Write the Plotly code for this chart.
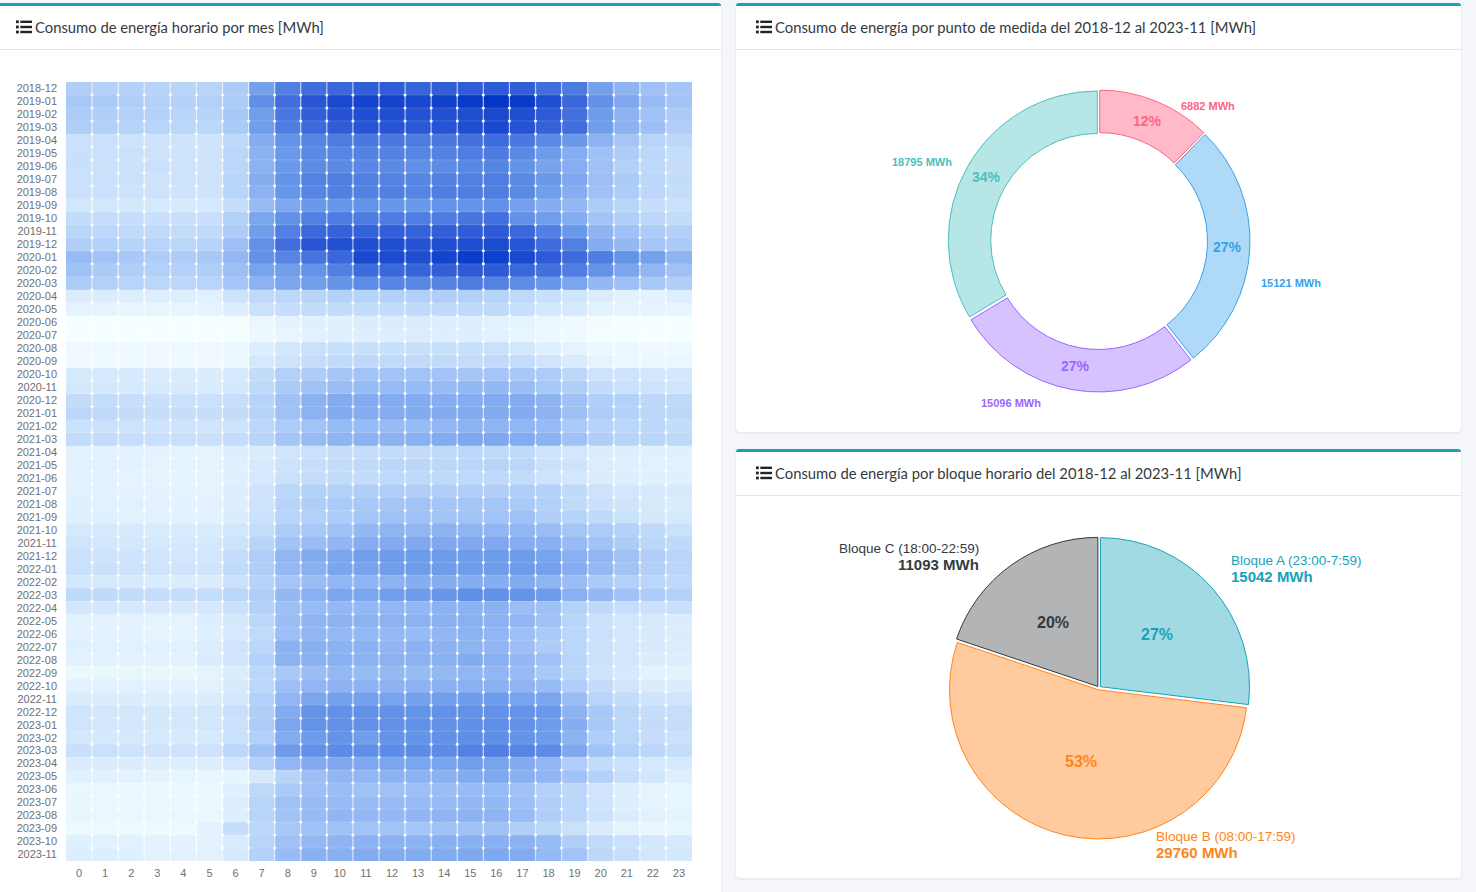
import plotly.graph_objects as go

W, H = 1476, 892

months = [f"{y}-{m:02d}" for y, m in [(2018, 12)] + [(y, m) for y in range(2019, 2023) for m in range(1, 13)] + [(2023, m) for m in range(1, 12)]]
hours = list(range(24))

# Heat values (relative level, 0-100)
r2018_12 = [37,36,35,34,33,33,38,57,70,77,80,83,84,81,83,84,85,83,77,72,57,49,43,41]
r2019_01 = [40,39,37,36,35,36,38,64,77,87,92,94,94,93,95,98,100,98,90,80,63,54,46,42]
r2019_02 = [38,37,36,35,33,34,40,58,73,83,88,90,90,88,89,90,92,90,85,76,59,50,43,39]
r2019_03 = [37,36,34,33,32,32,39,58,71,79,84,87,87,86,88,90,92,88,82,77,58,50,44,37]
r2019_04 = [24,24,23,23,22,22,30,52,62,68,72,73,73,72,73,76,78,73,66,60,50,41,33,31]
r2019_05 = [25,24,24,23,23,23,32,50,60,66,68,69,69,68,69,71,72,66,59,52,43,38,31,27]
r2019_06 = [25,24,24,24,23,23,32,50,60,65,66,67,66,64,65,67,68,62,56,52,43,36,30,26]
r2019_07 = [24,24,24,23,23,23,33,52,62,69,71,70,69,68,70,70,71,66,60,54,44,39,31,28]
r2019_08 = [24,24,23,23,22,22,33,50,61,68,70,69,70,68,71,71,71,66,58,52,43,38,31,27]
r2019_09 = [20,20,19,18,17,18,26,46,54,60,61,62,61,60,62,62,63,57,52,47,38,33,26,24]
r2019_10 = [28,27,26,25,25,25,36,55,63,70,72,72,72,71,72,74,76,63,58,52,42,37,31,28]
r2019_11 = [32,31,30,29,28,29,38,58,70,80,82,82,83,82,83,84,85,80,70,60,49,43,38,36]
r2019_12 = [37,35,34,33,32,34,44,63,77,87,89,90,90,88,90,90,91,87,78,70,52,47,41,39]
r2020_01 = [46,42,40,38,38,40,47,63,68,75,80,92,91,90,94,97,96,92,85,78,71,62,57,49]
r2020_02 = [43,39,37,36,35,37,44,56,58,62,70,78,80,81,83,85,85,80,76,71,62,55,48,43]
r2020_03 = [38,36,33,32,31,33,41,50,55,58,62,65,68,67,69,72,69,65,61,55,47,44,40,37]
r2020_04 = [15,15,14,14,14,13,23,30,31,33,35,34,35,36,37,36,34,30,25,21,15,12,11,14]
r2020_05 = [10,10,9,9,9,10,14,24,26,28,28,28,28,29,29,29,29,25,19,18,12,10,10,9]
r2020_06 = [0,0,0,0,0,0,1,7,11,13,13,15,15,16,14,14,12,10,7,5,2,0,0,0]
r2020_07 = [0,0,0,0,0,0,1,5,9,12,13,14,14,15,14,14,12,9,6,4,1,1,0,0]
r2020_08 = [5,5,5,5,5,5,6,14,20,24,25,25,25,25,25,25,24,19,13,10,6,6,5,5]
r2020_09 = [4,4,4,4,4,4,6,18,23,27,29,30,29,29,29,28,29,27,21,16,10,7,6,7]
r2020_10 = [18,18,17,16,16,15,18,28,36,38,41,42,42,42,42,41,41,40,38,31,23,22,20,19]
r2020_11 = [19,19,18,17,17,16,19,30,39,43,45,46,46,46,46,47,47,45,40,37,28,24,23,21]
r2020_12 = [28,27,26,25,24,24,26,34,43,50,53,53,53,53,52,52,53,53,49,43,37,35,31,30]
r2021_01 = [31,30,28,27,26,26,28,34,43,50,53,52,52,53,53,53,53,53,50,44,38,35,32,31]
r2021_02 = [24,24,23,22,22,21,23,31,38,42,46,46,46,46,48,50,49,48,46,39,34,32,31,28]
r2021_03 = [28,28,26,25,25,24,27,33,41,46,49,50,50,51,53,54,54,53,50,43,37,33,32,30]
r2021_04 = [12,12,11,11,10,10,14,15,21,24,26,27,28,28,30,31,30,29,22,20,15,14,13,13]
r2021_05 = [12,12,11,10,10,10,13,17,23,26,28,29,31,31,31,32,33,32,24,22,15,13,12,12]
r2021_06 = [11,11,10,10,10,10,13,17,24,27,28,28,30,30,30,30,30,28,22,20,15,14,13,13]
r2021_07 = [12,12,11,11,10,10,14,22,32,35,36,37,37,37,37,37,37,37,35,29,23,20,17,17]
r2021_08 = [13,12,12,11,11,11,14,23,33,37,39,40,41,42,41,41,41,39,36,29,24,21,18,16]
r2021_09 = [13,13,12,12,11,11,15,24,33,36,38,41,43,43,42,42,42,43,37,34,29,24,19,18]
r2021_10 = [18,18,17,16,16,16,20,27,38,40,43,47,49,48,50,49,48,48,45,41,38,35,29,24]
r2021_11 = [21,20,19,18,18,18,23,33,42,45,48,52,53,54,54,54,54,52,51,46,42,38,32,30]
r2021_12 = [24,23,22,21,20,20,27,37,48,53,55,58,59,59,59,59,59,59,56,51,48,43,37,33]
r2022_01 = [25,24,23,22,21,21,29,37,47,51,55,56,58,59,59,59,59,59,57,52,47,42,36,32]
r2022_02 = [19,18,17,16,15,15,24,34,41,45,48,49,50,52,52,52,52,53,49,45,39,36,32,30]
r2022_03 = [30,29,28,27,26,27,32,37,47,51,55,55,58,59,61,64,63,62,59,51,47,43,38,36]
r2022_04 = [20,19,18,17,17,18,24,35,44,46,47,47,48,47,50,50,50,45,43,35,30,26,24,25]
r2022_05 = [12,11,11,10,10,14,19,31,45,49,50,50,50,50,51,51,50,48,43,33,24,20,18,15]
r2022_06 = [11,11,11,10,10,13,18,29,44,48,47,47,47,46,48,50,48,44,39,32,24,20,17,15]
r2022_07 = [13,12,12,12,12,15,21,32,50,51,50,50,48,50,50,49,48,44,38,32,24,20,17,15]
r2022_08 = [12,12,11,11,11,15,21,35,50,51,51,50,50,50,51,53,51,47,43,33,24,20,15,14]
r2022_09 = [6,7,8,8,7,10,15,31,40,45,47,46,47,46,47,48,48,46,40,32,23,18,11,10]
r2022_10 = [12,12,12,11,11,12,17,31,44,48,50,50,50,50,51,51,51,49,46,37,28,21,15,15]
r2022_11 = [16,15,15,14,14,15,19,35,48,55,57,57,56,57,58,59,59,56,55,45,33,28,22,21]
r2022_12 = [21,20,20,19,19,20,25,37,53,62,63,63,63,62,63,63,63,62,60,50,40,32,27,26]
r2023_01 = [21,20,20,19,19,20,24,38,55,62,63,63,63,63,63,64,64,63,59,52,40,32,28,26]
r2023_02 = [19,18,18,17,17,17,24,36,53,59,62,58,62,62,63,64,64,62,59,50,37,32,26,24]
r2023_03 = [25,24,23,22,22,23,31,43,59,63,65,64,65,65,65,69,70,68,65,54,42,36,32,27]
r2023_04 = [15,15,15,14,14,14,20,35,48,53,54,54,55,55,56,58,56,53,48,37,28,24,18,17]
r2023_05 = [12,12,11,10,9,8,9,17,33,44,48,48,50,50,51,53,54,51,48,42,35,26,20,14]
r2023_06 = [7,7,6,6,6,6,13,30,39,44,45,43,43,44,45,46,46,43,36,31,21,14,10,9]
r2023_07 = [8,7,7,7,6,6,14,33,43,46,46,46,46,46,46,47,47,44,37,32,22,14,10,9]
r2023_08 = [8,7,7,7,7,7,14,33,42,46,48,47,47,48,49,50,49,46,37,32,23,15,12,10]
r2023_09 = [5,5,5,5,5,11,26,31,40,43,43,42,42,41,43,43,43,37,32,24,15,10,8,8]
r2023_10 = [13,12,12,11,11,11,16,33,43,47,49,50,50,50,51,51,51,50,46,37,29,24,19,17]
r2023_11 = [14,14,13,12,12,12,17,35,46,51,51,53,53,53,53,54,54,53,47,42,31,26,20,19]

heat = [globals()["r" + m.replace("-", "_")] for m in months]
assert all(len(r) == 24 for r in heat) and len(heat) == 60

punto_values = [6882, 15121, 15096, 18795]
punto_line = ["#ff6384", "#36a2eb", "#9966ff", "#4bc0c0"]
punto_fill = ["rgba(255,99,132,.45)", "rgba(54,162,235,.4)", "rgba(153,102,255,.4)", "rgba(75,192,192,.4)"]

bloque_names = ["Bloque A (23:00-7:59)", "Bloque B (08:00-17:59)", "Bloque C (18:00-22:59)"]
bloque_values = [15042, 29760, 11093]
bloque_line = ["#17a2b8", "#ff851b", "#343a40"]
bloque_fill = ["rgba(23,162,184,.4)", "rgba(255,133,27,.43)", "rgba(52,58,64,.38)"]

titles = ["Consumo de energía horario por mes [MWh]",
          "Consumo de energía por punto de medida del 2018-12 al 2023-11 [MWh]",
          "Consumo de energía por bloque horario del 2018-12 al 2023-11 [MWh]"]

colorscale = [[0, "rgb(246,255,255)"], [.12, "rgb(225,241,254)"], [.25, "rgb(200,224,251)"],
              [.37, "rgb(176,206,248)"], [.5, "rgb(140,178,242)"], [.62, "rgb(100,148,232)"],
              [.75, "rgb(70,115,222)"], [.87, "rgb(40,85,212)"], [1, "rgb(3,54,198)"]]


def X(p):
    return p / W


def Y(p):
    return 1 - p / H


def pbox(x0, y0, x1, y1):
    return dict(x=[X(x0), X(x1)], y=[Y(y1), Y(y0)])


fig = go.Figure()

fig.add_trace(go.Heatmap(z=heat, x=hours, y=list(range(60)), colorscale=colorscale, zmin=0, zmax=100,
                         showscale=False, hoverinfo="skip"))

# cell separators, derived from the grid
vx, vy = [], []
for i in hours[:-1]:
    vx += [i + .5, i + .5, None]
    vy += [-.5, 59.5, None]
fig.add_trace(go.Scatter(x=vx, y=vy, mode="lines", line=dict(color="rgba(255,255,255,.65)", width=1.2),
                         hoverinfo="skip", showlegend=False))
hx, hy = [], []
for j in range(59):
    hx += [-.5, 23.5, None]
    hy += [j + .5, j + .5, None]
fig.add_trace(go.Scatter(x=hx, y=hy, mode="lines", line=dict(color="rgba(255,255,255,.15)", width=1),
                         hoverinfo="skip", showlegend=False))
dx = [i + .5 for j in range(59) for i in hours[:-1]]
dy = [j + .5 for j in range(59) for i in hours[:-1]]
fig.add_trace(go.Scatter(x=dx, y=dy, mode="markers", marker=dict(color="white", size=3),
                         hoverinfo="skip", showlegend=False))

R = 151
fig.add_trace(go.Pie(values=punto_values, sort=False, direction="clockwise", rotation=0, hole=.715,
                     pull=.013, domain=pbox(1099 - R, 241 - R, 1099 + R, 241 + R),
                     marker=dict(colors=punto_fill, line=dict(color=punto_line, width=1)),
                     textinfo="none", hoverinfo="skip", showlegend=False))
fig.add_trace(go.Pie(values=bloque_values, labels=bloque_names, sort=False, direction="clockwise", rotation=0,
                     pull=.013, domain=pbox(1099 - R, 688 - R, 1099 + R, 688 + R),
                     marker=dict(colors=bloque_fill, line=dict(color=bloque_line, width=1)),
                     textinfo="none", hoverinfo="skip", showlegend=False))

shapes = []


def rect(x0, y0, x1, y1, color, layer="below"):
    shapes.append(dict(type="rect", xref="paper", yref="paper", x0=X(x0), x1=X(x1), y0=Y(y0), y1=Y(y1),
                       fillcolor=color, line=dict(width=0), layer=layer))


def rounded(x0, y0, x1, y1, r, color):
    p = (f"M {X(x0 + r)} {Y(y0)} L {X(x1 - r)} {Y(y0)} Q {X(x1)} {Y(y0)} {X(x1)} {Y(y0 + r)} "
         f"L {X(x1)} {Y(y1 - r)} Q {X(x1)} {Y(y1)} {X(x1 - r)} {Y(y1)} L {X(x0 + r)} {Y(y1)} "
         f"Q {X(x0)} {Y(y1)} {X(x0)} {Y(y1 - r)} L {X(x0)} {Y(y0 + r)} Q {X(x0)} {Y(y0)} {X(x0 + r)} {Y(y0)} Z")
    shapes.append(dict(type="path", xref="paper", yref="paper", path=p, fillcolor=color,
                       line=dict(width=0), layer="below"))


def card(x0, y0, x1, y1, hdr):
    rounded(x0 - 1, y0, x1 + 1, y1 + 2, 5, "rgba(0,0,0,.035)")
    rounded(x0, y0, x1, y0 + 8, 3, "#17a2b8")
    rounded(x0, y0 + 3, x1, y1, 4, "white")
    rect(x0, y0 + 3, x1, y0 + 8, "white")
    rect(x0, y0 + hdr, x1, y0 + hdr + 1, "#e2e4e7")


card(-5, 3, 721, 900, 46)
card(736, 3, 1461, 432, 46)
card(736, 449, 1461, 878, 46)

annotations = []


def note(x, y, text, size, color, anchor="center", family="Liberation Sans", bold=False):
    annotations.append(dict(xref="paper", yref="paper", x=X(x), y=Y(y), text=f"<b>{text}</b>" if bold else text,
                            showarrow=False, xanchor=anchor, yanchor="middle", align=anchor,
                            font=dict(family=family, size=size, color=color), borderpad=0, borderwidth=0))


for tx, ty, title in [(16, 27, titles[0]), (756, 27, titles[1]), (756, 473, titles[2])]:
    for k in (-5.2, 0, 5):
        rect(tx, ty + k - 1.4, tx + 2.8, ty + k + 1.4, "#212529")
        rect(tx + 4.3, ty + k - 1.2, tx + 16, ty + k + 1.2, "#212529")
    note(tx + 19, ty + .5, title, 14.8, "#343a40", "left", "Lato")

for px, py, v, c in zip([1208, 1291, 1011, 922], [106, 283, 403, 162], punto_values, punto_line):
    note(px, py, f"{v} MWh", 11, c, bold=True)
for px, py, v, c in zip([1147, 1227, 1075, 986], [121, 247, 366, 177], punto_values, punto_line):
    note(px, py, f"{v / sum(punto_values):.0%}", 14, c, bold=True)

for (px, py, anc), name, v, c in zip([(1231, 560, "left"), (1156, 836, "left"), (979, 548, "right")],
                                     bloque_names, bloque_values, bloque_line):
    note(px, py, name, 13.5, c, anc)
    note(px, py + 16.5, f"{v} MWh", 15, c, anc, bold=True)
for px, py, v, c in zip([1157, 1081, 1053], [634, 761, 622], bloque_values, bloque_line):
    note(px, py, f"{v / sum(bloque_values):.0%}", 16, c, bold=True)

fig.update_layout(
    width=W, height=H, margin=dict(l=0, r=0, t=0, b=0, autoexpand=False), paper_bgcolor="#f4f6f9",
    plot_bgcolor="white", showlegend=False, shapes=shapes, annotations=annotations,
    xaxis=dict(domain=[X(66), X(692)], range=[-.5, 23.5], tickmode="array", tickvals=hours,
               ticktext=[str(h) for h in hours], showgrid=False, zeroline=False, showline=False, ticks="",
               tickfont=dict(family="Liberation Sans", size=11, color="#6e7079"), ticklabelstandoff=4),
    yaxis=dict(domain=[Y(861), Y(82)], range=[59.5, -.5], tickmode="array", tickvals=list(range(60)),
               ticktext=months, showgrid=False, zeroline=False, showline=False, ticks="",
               tickfont=dict(family="Liberation Sans", size=11, color="#6e7079"), ticklabelstandoff=8),
)

fig.write_html("out.html", config=dict(displayModeBar=False),
               post_script="document.body.style.margin='0';document.body.style.overflow='hidden';")
